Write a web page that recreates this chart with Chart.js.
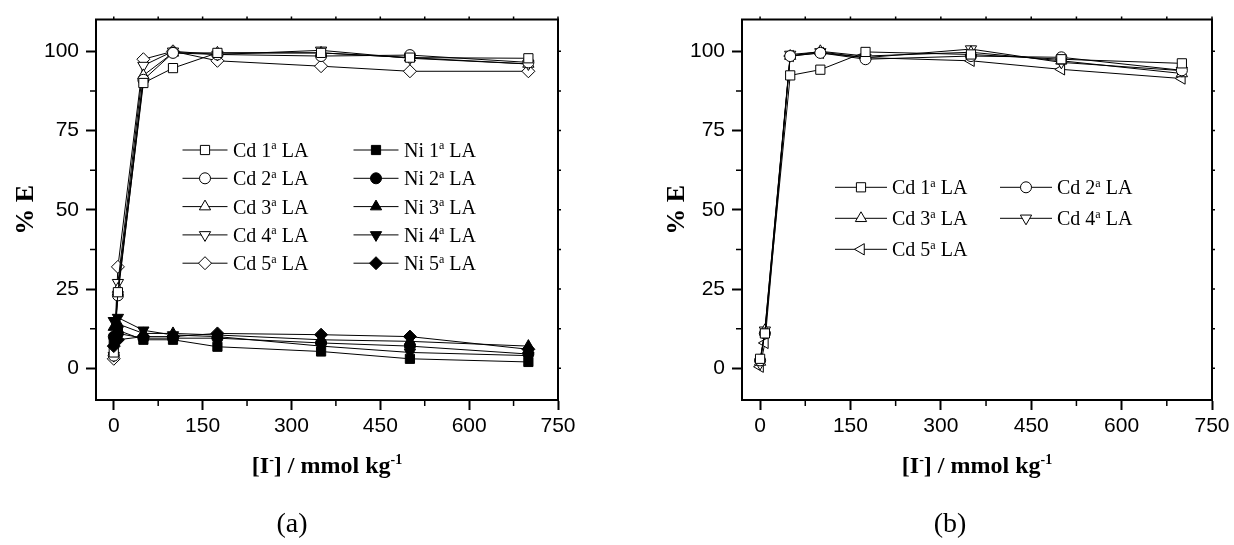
<!DOCTYPE html>
<html>
<head>
<meta charset="utf-8">
<script src="https://cdn.jsdelivr.net/npm/chart.js@4.4.1/dist/chart.umd.min.js"></script>
<style>
  html, body { margin: 0; padding: 0; background: #fff; }
  body { width: 1234px; height: 545px; position: relative; overflow: hidden; }
  .box { position: absolute; top: 0; width: 617px; height: 545px; }
  #box-a { left: 0; }
  #box-b { left: 617px; }
</style>
</head>
<body>
<div class="box" id="box-a"><canvas id="chart-a" width="617" height="545"></canvas></div>
<div class="box" id="box-b"><canvas id="chart-b" width="617" height="545"></canvas></div>
<script>
// [I-] concentration, mmol/kg
const concA = [0, 7, 50, 100, 175, 350, 500, 700]
const concB = [0, 8, 50, 100, 175, 350, 500, 700]

// (a) Cd and Ni extraction, %E
const cdA1 = [5, 24, 90, 94.7, 99.5, 99.5, 98, 97.8]
const cdA2 = [4, 23, 91, 99.5, 99, 98.5, 98.8, 96.5]
const cdA3 = [5, 25, 92.4, 99.5, 99.5, 99.5, 98, 96]
const cdA4 = [4, 27, 95.5, 100, 99, 100.3, 97.8, 96]
const cdA5 = [3, 32, 97.5, 100, 97, 95.3, 93.7, 93.7]

const niA1 = [8, 12, 9, 9, 6.8, 5.3, 3, 2]
const niA2 = [10, 11, 9.5, 9.5, 9.5, 8, 7, 4.5]
const niA3 = [13, 14, 11, 11, 10.5, 9, 8.5, 7]
const niA4 = [15, 16, 12, 10.5, 10, 7, 5, 4]
const niA5 = [7, 9, 10, 10, 11, 10.6, 10, 6]

// (b) Cd only
const cdB1 = [3, 11, 92.4, 94.2, 99.8, 99, 97.5, 96.2]
const cdB2 = [2.5, 11, 98.5, 99.5, 97.5, 98.5, 98.1, 94]
const cdB3 = [2, 12, 98.5, 100, 98.5, 99.7, 97, 93]
const cdB4 = [1.5, 12, 99, 99.8, 98, 100.7, 96.5, 93.9]
const cdB5 = [0.5, 8, 98.5, 99.5, 98, 97, 94.3, 91.4]

const xTicks = [0, 150, 300, 450, 600, 750]
const xMinor = [75, 225, 375, 525, 675]
const yTicks = [0, 25, 50, 75, 100]
const yMinor = [12.5, 37.5, 62.5, 87.5]

const serif = '"Liberation Serif", "Times New Roman", serif'
const sans = '"Liberation Sans", Arial, sans-serif'

const series = (label, xs, ys, style, rot, filled, order) => ({
  label,
  data: xs.map((x, i) => ({ x, y: ys[i] })),
  borderColor: '#000',
  borderWidth: 1,
  tension: 0,
  pointStyle: style,
  pointRotation: rot,
  pointRadius: style === 'circle' ? 5.5 : 6.5,
  pointBorderWidth: 1,
  pointBorderColor: '#000',
  pointBackgroundColor: filled ? '#000' : '#fff',
  order
})

const drawMarker = (ctx, ds, x, y) => {
  const r = ds.pointRadius
  ctx.save()
  ctx.translate(x, y)
  ctx.rotate(ds.pointRotation * Math.PI / 180)
  ctx.beginPath()
  if (ds.pointStyle === 'circle') {
    ctx.arc(0, 0, r, 0, 2 * Math.PI)
  } else if (ds.pointStyle === 'rect') {
    const s = r * Math.SQRT1_2
    ctx.rect(-s, -s, 2 * s, 2 * s)
  } else if (ds.pointStyle === 'rectRot') {
    ctx.moveTo(0, -r); ctx.lineTo(r, 0); ctx.lineTo(0, r); ctx.lineTo(-r, 0); ctx.closePath()
  } else {
    for (let k = 0; k < 3; k++) {
      const t = k * 2 * Math.PI / 3
      if (k) ctx.lineTo(Math.sin(t) * r, -Math.cos(t) * r)
      else ctx.moveTo(Math.sin(t) * r, -Math.cos(t) * r)
    }
    ctx.closePath()
  }
  ctx.fillStyle = ds.pointBackgroundColor
  ctx.fill()
  ctx.lineWidth = 1
  ctx.strokeStyle = '#000'
  ctx.stroke()
  ctx.restore()
}

// text pieces: [string, isSuperscript]
const drawRich = (ctx, parts, x, y, size, bold, center) => {
  const font = sup => `${bold ? 'bold ' : ''}${sup ? Math.round(size * 0.6) : size}px ${serif}`
  const widths = parts.map(([t, sup]) => { ctx.font = font(sup); return ctx.measureText(t).width })
  let cx = center ? x - widths.reduce((a, b) => a + b, 0) / 2 : x
  ctx.textAlign = 'left'
  ctx.textBaseline = 'alphabetic'
  parts.forEach(([t, sup], i) => {
    ctx.font = font(sup)
    ctx.fillText(t, cx, sup ? y - size * 0.38 : y)
    cx += widths[i]
  })
}

const decor = {
  id: 'decor',
  afterDraw(chart, args, opts) {
    const { ctx, chartArea: a } = chart
    const x = chart.scales.x
    const y = chart.scales.y
    ctx.save()
    ctx.strokeStyle = '#000'
    ctx.fillStyle = '#000'

    // top and right frame
    ctx.lineWidth = 2
    ctx.beginPath()
    ctx.moveTo(a.left - 1, a.top)
    ctx.lineTo(a.right, a.top)
    ctx.lineTo(a.right, a.bottom + 1)
    ctx.stroke()

    // minor ticks outside, tiny ticks on top/right
    ctx.lineWidth = 1.5
    ctx.beginPath()
    xMinor.forEach(v => {
      const px = x.getPixelForValue(v)
      ctx.moveTo(px, a.bottom); ctx.lineTo(px, a.bottom + 6)
    })
    yMinor.forEach(v => {
      const py = y.getPixelForValue(v)
      ctx.moveTo(a.left, py); ctx.lineTo(a.left - 6, py)
    })
    xTicks.concat(xMinor).forEach(v => {
      const px = x.getPixelForValue(v)
      ctx.moveTo(px, a.top); ctx.lineTo(px, a.top - 3)
    })
    yTicks.concat(yMinor).forEach(v => {
      const py = y.getPixelForValue(v)
      ctx.moveTo(a.right, py); ctx.lineTo(a.right + 3, py)
    })
    ctx.stroke()

    // x axis title
    drawRich(ctx, [['[I', false], ['-', true], ['] / mmol kg', false], ['-1', true]],
      (a.left + a.right) / 2, 473, 24, true, true)

    // panel letter
    drawRich(ctx, [[opts.panel, false]], opts.panelX, 532, 28, false, true)

    // legend
    chart.data.datasets.forEach((ds, i) => {
      const [mx, my] = opts.slots[i]
      ctx.lineWidth = 1
      ctx.strokeStyle = '#000'
      ctx.beginPath()
      ctx.moveTo(mx - opts.half, my); ctx.lineTo(mx + opts.half, my)
      ctx.stroke()
      drawMarker(ctx, ds, mx, my)
      const [head, tail] = ds.label.split('ª')
      drawRich(ctx, [[head, false], ['a', true], [tail, false]], mx + opts.gap, my + 7, 20, false, false)
    })
    ctx.restore()
  }
}

const makeChart = (id, datasets, yAxisWidth, titlePad, padRight, decorOpts) => new Chart(document.getElementById(id), {
  type: 'line',
  data: { datasets },
  options: {
    responsive: false,
    animation: false,
    events: [],
    layout: { padding: { top: 15, right: padRight, left: 0, bottom: 0 } },
    plugins: {
      legend: { display: false },
      tooltip: { enabled: false },
      decor: decorOpts
    },
    scales: {
      x: {
        type: 'linear',
        min: -30,
        max: 750,
        afterBuildTicks: s => { s.ticks = xTicks.map(value => ({ value })) },
        afterFit: s => { s.height = 145 },
        grid: { drawOnChartArea: false, tickLength: 10, tickWidth: 2, tickColor: '#000' },
        border: { display: true, color: '#000', width: 2 },
        ticks: { color: '#000', padding: 4, maxRotation: 0, font: { family: sans, size: 21 } }
      },
      y: {
        type: 'linear',
        min: -10,
        max: 110,
        afterBuildTicks: s => { s.ticks = yTicks.map(value => ({ value })) },
        afterFit: s => { s.width = yAxisWidth },
        grid: { drawOnChartArea: false, tickLength: 10, tickWidth: 2, tickColor: '#000' },
        border: { display: true, color: '#000', width: 2 },
        ticks: { color: '#000', padding: 7, font: { family: sans, size: 21 } },
        title: {
          display: true,
          text: '% E',
          color: '#000',
          padding: { top: titlePad, bottom: 0 },
          font: { family: serif, size: 26, weight: 'bold' }
        }
      }
    }
  },
  plugins: [decor]
})

const rowsA = [150, 178.3, 206.6, 234.9, 263.2]
const rowsB = [187.3, 218.3, 249.3]

makeChart('chart-a', [
  series('Cd 1ª LA', concA, cdA1, 'rect', 0, false, 1),
  series('Cd 2ª LA', concA, cdA2, 'circle', 0, false, 1),
  series('Cd 3ª LA', concA, cdA3, 'triangle', 0, false, 1),
  series('Cd 4ª LA', concA, cdA4, 'triangle', 180, false, 1),
  series('Cd 5ª LA', concA, cdA5, 'rectRot', 0, false, 1),
  series('Ni 1ª LA', concA, niA1, 'rect', 0, true, 0),
  series('Ni 2ª LA', concA, niA2, 'circle', 0, true, 0),
  series('Ni 3ª LA', concA, niA3, 'triangle', 0, true, 0),
  series('Ni 4ª LA', concA, niA4, 'triangle', 180, true, 0),
  series('Ni 5ª LA', concA, niA5, 'rectRot', 0, true, 0)
], 96, 11, 59, {
  panel: '(a)',
  panelX: 292,
  half: 22.5,
  gap: 28,
  slots: rowsA.map(r => [205, r]).concat(rowsA.map(r => [376, r]))
})

makeChart('chart-b', [
  series('Cd 1ª LA', concB, cdB1, 'rect', 0, false, 0),
  series('Cd 2ª LA', concB, cdB2, 'circle', 0, false, 0),
  series('Cd 3ª LA', concB, cdB3, 'triangle', 0, false, 0),
  series('Cd 4ª LA', concB, cdB4, 'triangle', 180, false, 0),
  series('Cd 5ª LA', concB, cdB5, 'triangle', 270, false, 0)
], 125, 45, 22, {
  panel: '(b)',
  panelX: 333,
  half: 26,
  gap: 31,
  slots: [[244, rowsB[0]], [409, rowsB[0]], [244, rowsB[1]], [409, rowsB[1]], [244, rowsB[2]]]
})
</script>
</body>
</html>
